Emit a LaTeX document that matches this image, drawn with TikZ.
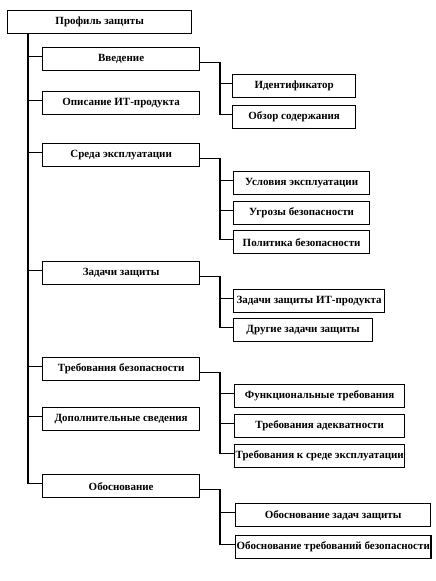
\documentclass[tikz,border=0pt]{standalone}
\usepackage{fontspec}
\setmainfont{Liberation Serif}
\usetikzlibrary{positioning}

\begin{document}
\begin{tikzpicture}[
        x=1pt, y=-1pt,
        block/.style={
            rectangle,
            draw,
            line width=1.3pt,
            anchor=north west,
            minimum height=23pt,
            inner sep=1pt,
            align=center,
            font=\bfseries\fontsize{11}{12}\selectfont
        },
        link/.style={line width=1.1pt}
    ]
    \useasboundingbox (0,0) rectangle (436,581);

    % Nodes
    \node[block, minimum width=184pt] (profile) at (7,10) {Профиль защиты};

    \node[block, minimum width=157pt] (intro) at (42,47) {Введение};
    \node[block, minimum width=157pt] (descr) at (42,91) {Описание ИТ-продукта};
    \node[block, minimum width=157pt] (env) at (42,143) {Среда эксплуатации};
    \node[block, minimum width=157pt] (goals) at (42,261) {Задачи защиты};
    \node[block, minimum width=157pt] (reqs) at (42,357) {Требования безопасности};
    \node[block, minimum width=157pt] (extra) at (42,407) {Дополнительные сведения};
    \node[block, minimum width=157pt] (rationale) at (42,474) {Обоснование};

    \node[block, minimum width=123pt] (ident) at (232,74) {Идентификатор};
    \node[block, minimum width=123pt] (overview) at (232,105) {Обзор содержания};
    \node[block, minimum width=136pt] (conditions) at (233,171) {Условия эксплуатации};
    \node[block, minimum width=136pt] (threats) at (233,201) {Угрозы безопасности};
    \node[block, minimum width=136pt] (policy) at (233,230) {Политика безопасности};
    \node[block, minimum width=151pt] (goalsit) at (233,289) {Задачи защиты ИТ-продукта};
    \node[block, minimum width=139pt] (goalsother) at (233,318) {Другие задачи защиты};
    \node[block, minimum width=170pt] (funcreq) at (234,384) {Функциональные требования};
    \node[block, minimum width=170pt] (adeqreq) at (234,414) {Требования адекватности};
    \node[block, minimum width=170pt] (envreq) at (234,444) {Требования к среде эксплуатации};
    \node[block, minimum width=195pt] (goalsrat) at (235,503) {Обоснование задач защиты};
    \node[block, minimum width=195pt] (reqsrat) at (235,535) {Обоснование требований безопасности};

    \coordinate (trunk) at (28,0);
    \coordinate (branch) at (220,0);

    % Lines from the profile to its sections
    \foreach \n in {intro, descr, env, goals, reqs, extra, rationale}
        \coordinate (\n-in) at ([yshift=3pt]\n.west);
    \draw[link] (profile.south -| trunk) -- (rationale-in -| trunk) -- (rationale-in);
    \foreach \n in {intro, descr, env, goals, reqs, extra}
        \draw[link] (\n-in -| trunk) -- (\n-in);

    % Lines from the sections to their parts
    \foreach \n in {ident, overview, conditions, threats, policy, goalsit, goalsother,
                    funcreq, adeqreq, envreq, goalsrat, reqsrat}
        \coordinate (\n-in) at ([yshift=2.5pt]\n.west);
    \foreach \p/\l in {intro/overview, env/policy, goals/goalsother, reqs/envreq, rationale/reqsrat} {
        \coordinate (\p-out) at ([yshift=-3.5pt]\p.east);
        \draw[link] (\p-out) -- (\p-out -| branch) -- (\l-in -| branch) -- (\l-in);
    }
    \foreach \n in {ident, conditions, threats, goalsit, funcreq, adeqreq, goalsrat}
        \draw[link] (\n-in -| branch) -- (\n-in);

\end{tikzpicture}
\end{document}
